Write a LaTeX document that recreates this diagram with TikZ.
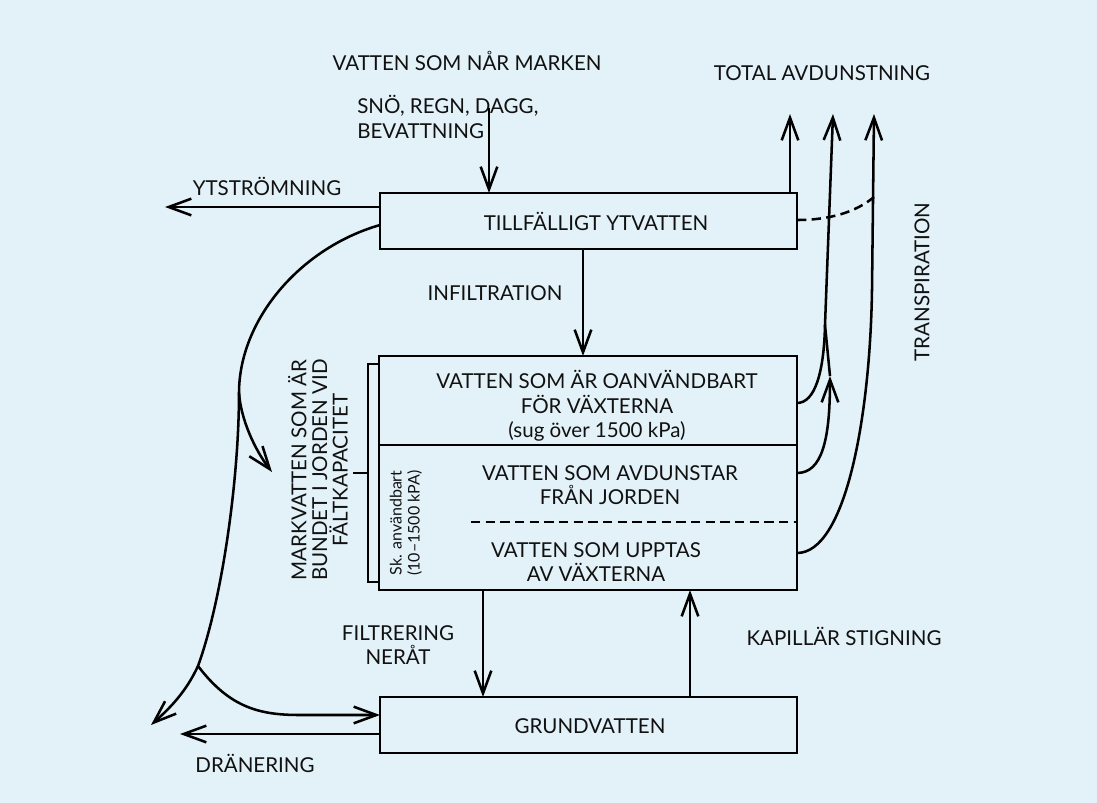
\documentclass[tikz,border=0pt]{standalone}
\usepackage{fontspec}
\setmainfont{Lato}
\usetikzlibrary{arrows.meta}
\definecolor{bgblue}{HTML}{E3F2F8}
\definecolor{ink}{HTML}{111111}
\tikzset{
  lbl/.style={font=\fontsize{15.4pt}{18.5pt}\selectfont, text=ink, inner sep=0pt, align=center},
  tight/.style={font=\fontsize{15.4pt}{15.5pt}\selectfont},
  small/.style={font=\fontsize{12pt}{13.5pt}\selectfont, text=ink, inner sep=0pt, align=center},
  boxnode/.style={draw=black, line width=1.9pt, inner sep=0pt, outer sep=0pt},
  ln/.style={draw=black, line width=1.9pt},
  arr/.style={ln, -{Straight Barb[length=17pt,width=12.5pt,line width=1.9pt]}},
  dsh/.style={ln, dash pattern=on 7pt off 4pt},
}
\begin{document}
\begin{tikzpicture}[x=0.75pt,y=-0.75pt]
\fill[bgblue] (0,0) rectangle (1097,803);
\useasboundingbox (0,0) rectangle (1097,803);

% boxes
\node[boxnode, minimum width=312.75pt, minimum height=42pt] (top) at (588.5,221) {};
\node[boxnode, minimum width=313.5pt, minimum height=175.5pt] (mid) at (588,473) {};
\node[boxnode, minimum width=312.75pt, minimum height=42pt] (grund) at (588.5,725) {};

% box texts
\node[lbl] (ttop) at (596,221) {TILLFÄLLIGT YTVATTEN};
\node[lbl] (tgrund) at (590,726) {GRUNDVATTEN};
\node[lbl] (t1) at (597,406) {VATTEN SOM ÄR OANVÄNDBART\\FÖR VÄXTERNA\\(sug över 1500 kPa)};
\node[lbl] (t2) at (610,485) {VATTEN SOM AVDUNSTAR\\FRÅN JORDEN};
\node[lbl] (t3) at (596,562) {VATTEN SOM UPPTAS\\AV VÄXTERNA};
\node[small, rotate=90] (tsk) at (406,523) {Sk. användbart\\(10–1500 kPA)};

% divider lines in mid box
\coordinate (divL) at (379,445);
\coordinate (divR) at (797,445);
\draw[ln] (divL) -- (divR);
\coordinate (dashL) at (471,522);
\coordinate (dashR) at (797,522);
\draw[dsh] (dashL) -- (dashR);

% bracket
\coordinate (brT) at (379,364);
\coordinate (brB) at (379,582);
\coordinate (brM) at (368,473);
\coordinate (brTick) at (353,473);
\draw[ln] (brT) -- (368,364) -- (368,582) -- (brB);
\draw[ln] (brM) -- (brTick);
\node[lbl, tight, rotate=90] (tmark) at (318,470) {MARKVATTEN SOM ÄR\\BUNDET I JORDEN VID\\FÄLTKAPACITET};

% top texts and arrows
\node[lbl] (tvatten) at (467,61) {VATTEN SOM NÅR MARKEN};
\node[lbl, align=left, anchor=north west] (tsno) at (357,95) {SNÖ, REGN, DAGG,\\BEVATTNING};
\coordinate (snoS) at (489,108);
\draw[arr] (snoS) -- (snoS |- top.north);

\node[lbl] (tyt) at (267,186) {YTSTRÖMNING};
\coordinate (ytE) at (165,207);
\draw[arr] (top.west |- ytE) -- (ytE);

\node[lbl] (tinf) at (495,293) {INFILTRATION};
\draw[arr] (top.south -| 583,0) -- (mid.north -| 583,0);

\node[lbl] (tfil) at (398,645) {FILTRERING\\NERÅT};
\draw[arr] (mid.south -| 483,0) -- (grund.north -| 483,0);

\node[lbl] (tkap) at (844,636) {KAPILLÄR STIGNING};
\draw[arr] (grund.north -| 690,0) -- (mid.south -| 690,0);

\node[lbl] (tdran) at (255,763) {DRÄNERING};
\coordinate (dranE) at (180,734);
\draw[arr] (grund.west |- dranE) -- (dranE);

% left big curve
\coordinate (lstart) at (380,225);
\coordinate (lbr1) at (239,393);
\coordinate (lbr2) at (198,666);
\coordinate (lend) at (151,725);
\coordinate (lmark) at (272,472);
\draw[arr] (lstart) .. controls (300,248) and (239,320) .. (lbr1)
  .. controls (239,480) and (222,600) .. (lbr2)
  .. controls (186,692) and (170,708) .. (lend);
\draw[arr] (lbr1) .. controls (241,420) and (255,450) .. (lmark);
\draw[arr] (lbr2) .. controls (230,708) and (260,715) .. (300,715) -- (grund.west |- 0,715);

% right side
\node[lbl] (ttot) at (822,73) {TOTAL AVDUNSTNING};
\node[lbl, rotate=90] (ttrans) at (922,282) {TRANSPIRATION};
\coordinate (up1) at (790,114);
\coordinate (up2) at (833,114);
\coordinate (up3) at (874,114);
\coordinate (join) at (825,325);
\coordinate (tipB) at (830,376);
\coordinate (c3) at (872,290);
\coordinate (dashEnd) at (874,197);
\draw[arr] (top.north -| up1) -- (up1);
\draw[arr] (mid.east |- 0,403) .. controls (815,403) and (824,372) .. (join) -- (up2);
\draw[arr] (mid.east |- 0,473) .. controls (822,473) and (830,440) .. (tipB);
\draw[ln] (tipB) -- (join);
\draw[arr] (mid.east |- 0,553) .. controls (845,553) and (870,420) .. (c3) -- (up3);
\draw[ln, dash pattern=on 7pt off 4pt] (top.east |- 0,220) .. controls (830,220) and (856,212) .. (dashEnd);
\end{tikzpicture}
\end{document}
